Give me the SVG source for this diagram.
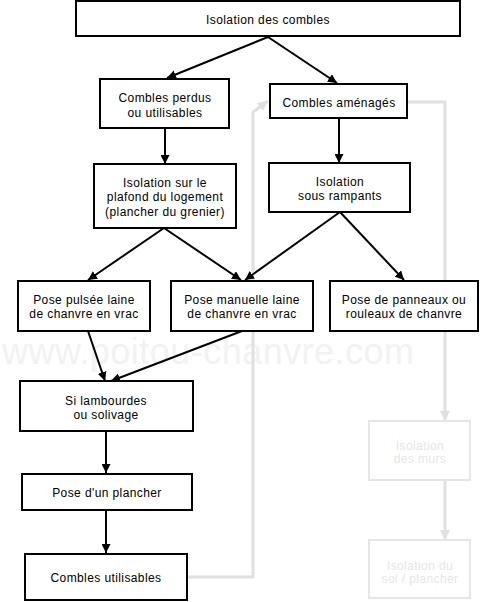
<svg xmlns="http://www.w3.org/2000/svg" width="484" height="602" viewBox="0 0 484 602">
<defs>
<marker id="ah" viewBox="0 0 10 10" refX="10" refY="5" markerWidth="9" markerHeight="9" markerUnits="userSpaceOnUse" orient="auto"><path d="M0,0 L10,5 L0,10 z" fill="#000"/></marker>
<marker id="ahg" viewBox="0 0 10 10" refX="10" refY="5" markerWidth="10" markerHeight="10" markerUnits="userSpaceOnUse" orient="auto"><path d="M0,0 L10,5 L0,10 z" fill="#e0e0e0"/></marker>
</defs>
<style>
.b rect{fill:#fff;stroke:#000;stroke-width:2}
.g rect{fill:#fff;stroke:#e6e6e6;stroke-width:2}
text{font-family:"Liberation Sans",Arial,sans-serif;font-size:12px;letter-spacing:0.4px;text-anchor:middle;fill:#000}
.g text{fill:#e6e6e6}
.c path{fill:none;stroke:#000;stroke-width:2;marker-end:url(#ah)}
.cg path{fill:none;stroke:#e0e0e0;stroke-width:3;marker-end:url(#ahg)}
.wm{font-size:36px;letter-spacing:0;text-anchor:start;fill:#f2f2f2}
</style>
<rect width="484" height="602" fill="#fff"/>
<text class="wm" x="2" y="364" textLength="412">www.poitou-chanvre.com</text>
<g id="connectors-gray" class="cg">
<path d="M188,577 H253 V112 L268,101"/>
<path d="M407,102 H445 V421"/>
<path d="M445,480 V540"/>
</g>
<g id="connectors" class="c">
<path d="M268,37 L167,78"/>
<path d="M268,37 L337,83"/>
<path d="M165,128 V164"/>
<path d="M339,118 V163"/>
<path d="M164,228 L88,280"/>
<path d="M164,228 L241,280"/>
<path d="M340,212 L245,280"/>
<path d="M340,212 L404,280"/>
<path d="M88,331 L105,381"/>
<path d="M242,331 L111,381"/>
<path d="M106,431 V473"/>
<path d="M106,510 V553"/>
</g>
<g id="n-isolation-combles" class="b"><rect x="76" y="1" width="384" height="35"/><text x="268" y="24">Isolation des combles</text></g>
<g id="n-combles-perdus" class="b"><rect x="100" y="79" width="129" height="49"/><text x="165" y="102">Combles perdus</text><text x="165" y="117">ou utilisables</text></g>
<g id="n-combles-amenages" class="b"><rect x="270" y="84" width="137" height="34"/><text x="339" y="107">Combles aménagés</text></g>
<g id="n-isolation-plafond" class="b"><rect x="94" y="164" width="142" height="64"/><text x="165" y="187">Isolation sur le</text><text x="165" y="201">plafond du logement</text><text x="165" y="216">(plancher du grenier)</text></g>
<g id="n-isolation-rampants" class="b"><rect x="269" y="163" width="141" height="49"/><text x="340" y="186">Isolation</text><text x="340" y="200">sous rampants</text></g>
<g id="n-pose-pulsee" class="b"><rect x="18" y="281" width="132" height="50"/><text x="84" y="304">Pose pulsée laine</text><text x="84" y="318">de chanvre en vrac</text></g>
<g id="n-pose-manuelle" class="b"><rect x="171" y="281" width="142" height="50"/><text x="242" y="304">Pose manuelle laine</text><text x="242" y="318">de chanvre en vrac</text></g>
<g id="n-pose-panneaux" class="b"><rect x="330" y="281" width="148" height="50"/><text x="404" y="304">Pose de panneaux ou</text><text x="404" y="318">rouleaux de chanvre</text></g>
<g id="n-si-lambourdes" class="b"><rect x="20" y="381" width="173" height="50"/><text x="106" y="405">Si lambourdes</text><text x="106" y="419">ou solivage</text></g>
<g id="n-pose-plancher" class="b"><rect x="22" y="474" width="170" height="36"/><text x="107" y="497">Pose d'un plancher</text></g>
<g id="n-combles-utilisables" class="b"><rect x="25" y="554" width="162" height="46"/><text x="106" y="582">Combles utilisables</text></g>
<g id="n-isolation-murs" class="g"><rect x="369" y="421" width="101" height="59"/><text x="420" y="450">Isolation</text><text x="420" y="463">des murs</text></g>
<g id="n-isolation-sol" class="g"><rect x="369" y="540" width="101" height="58"/><text x="420" y="570">Isolation du</text><text x="420" y="583">sol / plancher</text></g>
</svg>
